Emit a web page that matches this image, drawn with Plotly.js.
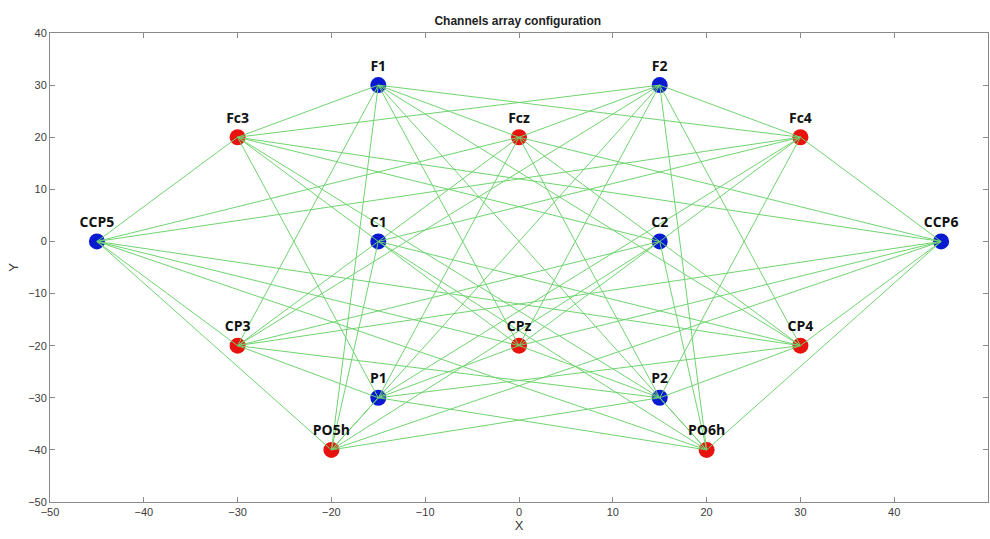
<!DOCTYPE html>
<html>
<head>
<meta charset="utf-8">
<script src="https://cdn.plot.ly/plotly-3.0.1.min.js"></script>
<style>html,body{margin:0;padding:0;background:#fff;}#chart{width:990px;height:539px;}</style>
</head>
<body>
<div id="chart"></div>
<script>
// Channel names, positions and group (red / blue)
const channelNames = ["F1","F2","Fc3","Fcz","Fc4","CCP5","C1","C2","CCP6","CP3","CPz","CP4","P1","P2","PO5h","PO6h"];
const channelX     = [-15, 15, -30, 0, 30, -45, -15, 15, 45, -30, 0, 30, -15, 15, -20, 20];
const channelY     = [30, 30, 20, 20, 20, 0, 0, 0, 0, -20, -20, -20, -30, -30, -40, -40];
const channelGroup = ["blue","blue","red","red","red","blue","blue","blue","blue","red","red","red","blue","blue","red","red"];
const xTicks = [-50,-40,-30,-20,-10,0,10,20,30,40,50];
const yTicks = [-50,-40,-30,-20,-10,0,10,20,30,40];

// connections: every red channel linked to every blue channel
const lx = [], ly = [];
for (let i = 0; i < channelNames.length; i++) {
  if (channelGroup[i] !== "red") continue;
  for (let j = 0; j < channelNames.length; j++) {
    if (channelGroup[j] !== "blue") continue;
    lx.push(channelX[i], channelX[j], null);
    ly.push(channelY[i], channelY[j], null);
  }
}

function groupTrace(g, color) {
  const idx = channelGroup.map((c, k) => c === g ? k : -1).filter(k => k >= 0);
  return {
    type: "scatter", mode: "markers",
    x: idx.map(k => channelX[k]), y: idx.map(k => channelY[k]),
    marker: {size: 16, color: color, line: {width: 0}},
    hoverinfo: "skip", cliponaxis: false
  };
}

const traces = [
  groupTrace("red", "#e8130f"),
  groupTrace("blue", "#0a1ad0"),
  {type: "scatter", mode: "lines", x: lx, y: ly,
   line: {color: "#6fd46f", width: 1}, hoverinfo: "skip"},
  {type: "scatter", mode: "markers+text", x: channelX, y: channelY, text: channelNames,
   textposition: "top center",
   textfont: {family: "Open Sans, Noto Sans, sans-serif", size: 14, color: "#111", weight: "bold"},
   marker: {size: 16, color: "rgba(0,0,0,0)"}, hoverinfo: "text", cliponaxis: false}
];

const axisCommon = {
  showgrid: false, zeroline: false, showline: true, mirror: "ticks",
  linecolor: "#8a8a8a", linewidth: 1, ticks: "inside", ticklen: 5, tickcolor: "#8a8a8a",
  tickfont: {family: "Arial, Liberation Sans, sans-serif", size: 11, color: "#3c3c3c"}
};

const layout = {
  width: 990, height: 539,
  margin: {l: 50, r: 2, t: 33, b: 37},
  paper_bgcolor: "#fff", plot_bgcolor: "#fff",
  showlegend: false,
  title: {text: "<b>Channels array configuration</b>", x: 0.523, xanchor: "center", y: 0.962, yanchor: "middle",
          font: {family: "Arial, Liberation Sans, sans-serif", size: 12, color: "#222"}},
  xaxis: Object.assign({}, axisCommon, {range: [-50, 50], tickvals: xTicks,
    title: {text: "X", standoff: 2, font: {family: "Arial, Liberation Sans, sans-serif", size: 13, color: "#3c3c3c"}}}),
  yaxis: Object.assign({}, axisCommon, {range: [-50, 40], tickvals: yTicks,
    title: {text: "Y", standoff: 6, font: {family: "Arial, Liberation Sans, sans-serif", size: 13, color: "#3c3c3c"}}})
};

Plotly.newPlot("chart", traces, layout, {displayModeBar: false, staticPlot: true});
</script>
</body>
</html>
